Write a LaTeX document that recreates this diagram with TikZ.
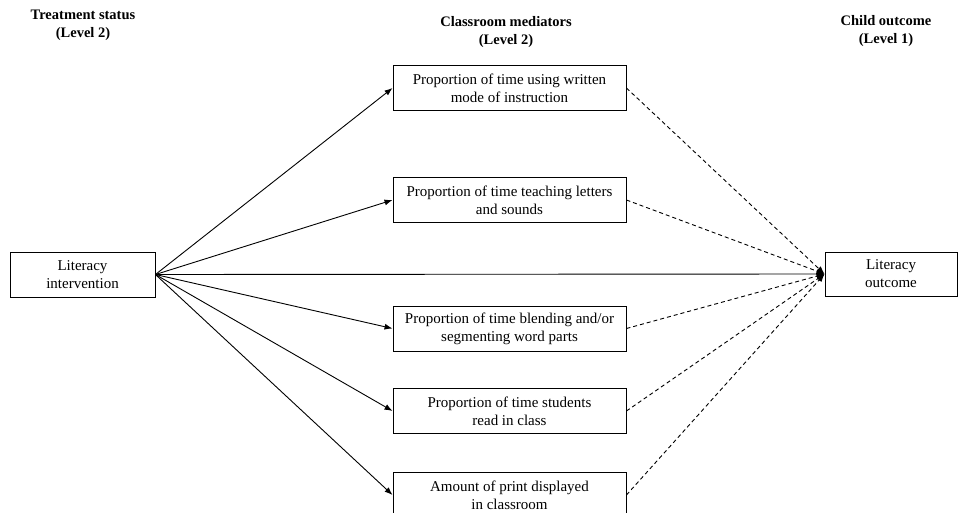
\documentclass[tikz,border=0pt]{standalone}
\usepackage{fontspec}
\setmainfont{Liberation Serif}
\usetikzlibrary{arrows.meta}
\begin{document}
\begin{tikzpicture}[x=1pt,y=-1pt,
  box/.style={draw, line width=0.9pt, inner sep=0pt, align=center,
    font=\fontsize{15}{18}\selectfont},
  midbox/.style={box, minimum width=233pt, minimum height=45pt},
  head/.style={align=center, font=\fontsize{14.5}{18}\selectfont\bfseries},
  solidarrow/.style={line width=0.9pt, -{Latex[length=8pt,width=6pt]}},
  dasharrow/.style={line width=0.9pt, dash pattern=on 4pt off 3pt, -{Latex[length=8pt,width=6pt]}}
]
\useasboundingbox (0,0) rectangle (963,513);

\node[head] (h1) at (83,25) {Treatment status\\(Level 2)};
\node[head] (h2) at (506,32) {Classroom mediators\\(Level 2)};
\node[head] (h3) at (886,31) {Child outcome\\(Level 1)};

\node[box, minimum width=145pt, minimum height=45pt] (li) at (82.5,274.5) {Literacy\\intervention};
\node[box, minimum width=132pt, minimum height=44pt] (lo) at (891,274) {Literacy\\outcome};

\node[midbox] (m1) at (509.5,88) {Proportion of time using written\\mode of instruction};
\node[midbox] (m2) at (509.5,200) {Proportion of time teaching letters\\and sounds};
\node[midbox] (m3) at (509.5,328.5) {Proportion of time blending and/or\\segmenting word parts};
\node[midbox] (m4) at (509.5,411) {Proportion of time students\\read in class};
\node[midbox] (m5) at (509.5,495) {Amount of print displayed\\in classroom};

\foreach \m in {m1,m2,m3,m4,m5}{
  \draw[solidarrow] (li.east) -- (\m.west);
  \draw[dasharrow] (\m.east) -- (lo.west);
}
\draw[solidarrow] (li.east) -- (lo.west);
\end{tikzpicture}
\end{document}
